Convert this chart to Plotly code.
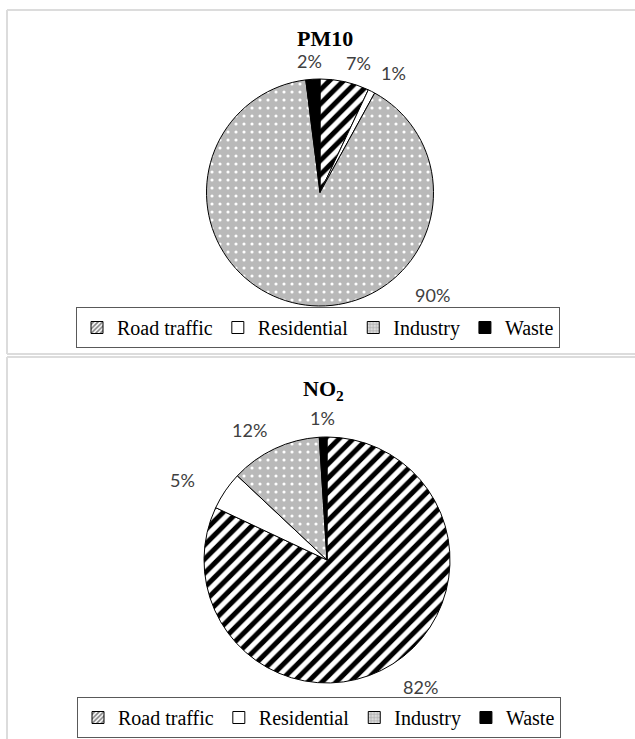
import plotly.graph_objects as go

W, H = 635, 739

# ---- data -------------------------------------------------------------
sources = ["Road traffic", "Residential", "Industry", "Waste"]
pm10_share = [7, 1, 90, 2]
no2_share = [82, 5, 12, 1]

# ---- layout helpers (pixel positions in the 635x739 page) --------------
pm10_center, pm10_radius = (320, 192.5), 113.5
no2_center, no2_radius = (327, 560), 123
pm10_label_xy = [(359, 63), (393, 73), (432, 295), (309, 61)]
no2_label_xy = [(420, 687), (182, 480), (249, 430), (322, 418)]

slice_fill = ["white", "white", "#b9b9b9", "black"]
pattern = dict(
    shape=["/", "", ".", ""],
    fgcolor=["black", "white", "white", "black"],
    bgcolor=["white", "white", "#b9b9b9", "black"],
    size=[10, 8, 8, 8],
    solidity=[0.5, 0.3, 0.12, 0.3],
)


def px_x(x):
    return x / W


def px_y(y):
    return 1 - y / H


def domain(center, r):
    cx, cy = center
    return dict(x=[px_x(cx - r), px_x(cx + r)], y=[px_y(cy + r), px_y(cy - r)])


def pie(values, center, r):
    return go.Pie(
        labels=sources,
        values=values,
        sort=False,
        direction="clockwise",
        rotation=0,
        textinfo="none",
        hoverinfo="label+percent",
        domain=domain(center, r),
        marker=dict(colors=slice_fill, pattern=pattern,
                    line=dict(color="black", width=1)),
        showlegend=False,
    )


fig = go.Figure([
    pie(pm10_share, pm10_center, pm10_radius),
    pie(no2_share, no2_center, no2_radius),
])

# legend keys: one empty bar per source, per legend box
for legend_id in ("legend", "legend2"):
    for i, name in enumerate(sources):
        fig.add_trace(go.Bar(
            x=[None], y=[None], name=name, legend=legend_id,
            marker=dict(
                color=slice_fill[i],
                line=dict(color="black", width=1),
                pattern=dict(shape=pattern["shape"][i],
                             fgcolor=pattern["fgcolor"][i],
                             bgcolor=pattern["bgcolor"][i],
                             size=4, solidity=0.5),
            ),
            hoverinfo="skip",
        ))

annotations = []
label_font = dict(family="Lato", size=18, color="#404040")
for vals, xy in ((pm10_share, pm10_label_xy), (no2_share, no2_label_xy)):
    for v, (x, y) in zip(vals, xy):
        annotations.append(dict(
            x=px_x(x), y=px_y(y), xref="paper", yref="paper",
            text=f"{v}%", showarrow=False, font=label_font,
            xanchor="center", yanchor="middle"))

title_font = dict(family="Liberation Serif", size=22, color="black")
annotations.append(dict(x=px_x(325), y=px_y(39), xref="paper", yref="paper",
                        text="<b>PM10</b>", showarrow=False, font=title_font,
                        xanchor="center", yanchor="middle"))
annotations.append(dict(x=px_x(323), y=px_y(390), xref="paper", yref="paper",
                        text="<b>NO<sub>2</sub></b>", showarrow=False,
                        font=title_font, xanchor="center", yanchor="middle"))

# panel frames
frame = dict(color="#dcdcdc", width=2)
shapes = [
    dict(type="line", xref="paper", yref="paper", x0=px_x(7), x1=1.05,
         y0=px_y(10), y1=px_y(10), line=frame),
    dict(type="line", xref="paper", yref="paper", x0=px_x(7), x1=px_x(7),
         y0=px_y(10), y1=px_y(354), line=frame),
    dict(type="line", xref="paper", yref="paper", x0=px_x(7), x1=1.05,
         y0=px_y(354), y1=px_y(354), line=frame),
    dict(type="line", xref="paper", yref="paper", x0=px_x(7), x1=1.05,
         y0=px_y(357), y1=px_y(357), line=frame),
    dict(type="line", xref="paper", yref="paper", x0=px_x(7), x1=px_x(7),
         y0=px_y(357), y1=-0.05, line=frame),
]

legend_style = dict(
    orientation="h",
    xanchor="left",
    yanchor="top",
    bordercolor="#595959",
    borderwidth=1,
    bgcolor="white",
    font=dict(family="Liberation Serif", size=20, color="black"),
    traceorder="normal",
)

fig.update_layout(
    width=W,
    height=H,
    margin=dict(l=0, r=0, t=0, b=0),
    paper_bgcolor="white",
    plot_bgcolor="white",
    xaxis=dict(visible=False),
    yaxis=dict(visible=False),
    legend=dict(x=px_x(76), y=px_y(307), **legend_style),
    legend2=dict(x=px_x(77), y=px_y(697), **legend_style),
    annotations=annotations,
    shapes=shapes,
)

fig.write_html("out.html")
